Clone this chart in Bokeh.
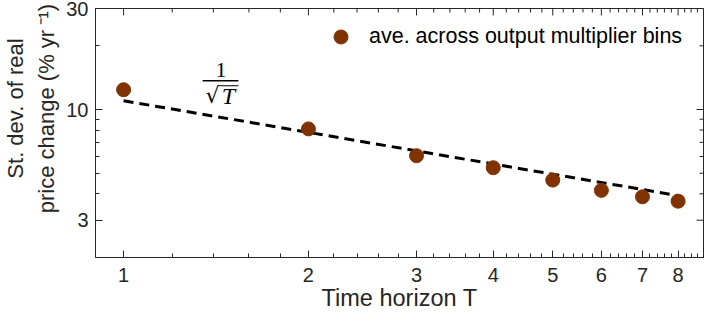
import numpy as np
from bokeh.plotting import figure
from bokeh.models import (FixedTicker, Label, Legend, LegendItem, Range1d)
from bokeh.embed import file_html
from bokeh.resources import INLINE

# ---- data ----
horizon = [1, 2, 3, 4, 5, 6, 7, 8]
sd_change = [12.4, 8.1, 6.05, 5.31, 4.64, 4.15, 3.87, 3.69]
ref_T = [1, 8]
ref_sd = [11.0, 3.92]

x_ticks = [1, 2, 3, 4, 5, 6, 7, 8]
x_minor = [round(v, 1) for v in np.arange(1.2, 8.81, 0.2) if abs(v - round(v)) > 1e-6]
y_ticks = [3, 10, 30]
y_minor = [2, 4, 5, 6, 7, 8, 9, 20]

DARK = "#262626"
BROWN = "#803300"
FONT = "Liberation Sans"
NB = "\u00a0"

X0, X1 = 0.9, 8.8
Y0, Y1 = 2, 30

p = figure(width=706, height=317, x_axis_type="log", y_axis_type="log",
           x_range=Range1d(X0, X1), y_range=Range1d(Y0, Y1),
           output_backend="svg", toolbar_location=None,
           min_border_left=95, min_border_right=3, min_border_top=8, min_border_bottom=60)
p.xgrid.visible = False
p.ygrid.visible = False
p.outline_line_color = DARK
p.outline_line_width = 1
p.background_fill_color = "white"
p.border_fill_color = "white"

def style(ax):
    ax.major_tick_in = 7
    ax.major_tick_out = 0
    ax.minor_tick_in = 4
    ax.minor_tick_out = 0
    ax.axis_line_color = DARK
    ax.major_tick_line_color = DARK
    ax.minor_tick_line_color = DARK
    ax.major_label_text_font = FONT
    ax.major_label_text_color = DARK
    ax.major_label_text_font_size = "20px"
    ax.axis_label_text_font = FONT
    ax.axis_label_text_font_style = "normal"
    ax.axis_label_text_color = DARK

xa = p.xaxis[0]
ya = p.yaxis[0]
xa.ticker = FixedTicker(ticks=x_ticks, minor_ticks=x_minor)
ya.ticker = FixedTicker(ticks=y_ticks, minor_ticks=y_minor)
xa.major_label_overrides = {t: str(t) for t in x_ticks}
ya.major_label_overrides = {t: str(t) for t in y_ticks}
style(xa)
style(ya)
xa.major_label_standoff = 10
ya.major_label_standoff = 7
xa.axis_label = "Time horizon T"
xa.axis_label_text_font_size = "23.5px"
xa.axis_label_standoff = 0
ya.axis_label = (NB * 8 + "St. dev. of real\n" +
                 NB * 8 + "price change (% yr\u2009\u207b\u00b9)")
ya.axis_label_text_font_size = "22px"
ya.axis_label_text_line_height = 1.25
ya.axis_label_standoff = 4

# inward ticks on the top and right edges of the box (half of each dash is clipped away)
p.scatter(x_ticks, [Y1] * len(x_ticks), marker="dash", size=14, angle=np.pi / 2,
          line_color=DARK, line_width=1)
p.scatter(x_minor, [Y1] * len(x_minor), marker="dash", size=8, angle=np.pi / 2,
          line_color=DARK, line_width=1)
p.scatter([X1] * len(y_ticks), y_ticks, marker="dash", size=14, line_color=DARK, line_width=1)
p.scatter([X1] * len(y_minor), y_minor, marker="dash", size=8, line_color=DARK, line_width=1)

# reference 1/sqrt(T) line
p.line(ref_T, ref_sd, line_color="black", line_width=3, line_dash="10 6")

r = p.scatter(horizon, sd_change, size=14, fill_color=BROWN, line_color=BROWN)

legend = Legend(items=[LegendItem(label="ave. across output multiplier bins", renderers=[r])],
                location=(228, 203), border_line_color=None, background_fill_alpha=0,
                label_text_font=FONT, label_text_font_size="21.5px", label_text_color="black",
                glyph_width=35, glyph_height=35, label_standoff=11, padding=0, margin=0)
p.add_layout(legend)

# 1/sqrt(T) annotation
p.add_layout(Label(x=1.441, y=15.34, text="1", text_align="center", text_baseline="middle",
                   text_font="Liberation Serif", text_font_size="22px", text_color="black"))
p.segment(x0=[1.345], y0=[13.68], x1=[1.538], y1=[13.68], line_color="black", line_width=1.5)
p.add_layout(Label(x=1.396, y=11.68, text="\u221a", text_align="center", text_baseline="middle",
                   text_font="DejaVu Serif", text_font_size="22px", text_color="black"))
p.add_layout(Label(x=1.482, y=11.61, text="T", text_align="center", text_baseline="middle",
                   text_font="Liberation Serif", text_font_style="italic", text_font_size="24px",
                   text_color="black"))
p.segment(x0=[1.433], y0=[12.95], x1=[1.538], y1=[12.95], line_color="black", line_width=1.2)

open("out.html", "w").write(file_html(p, INLINE))
